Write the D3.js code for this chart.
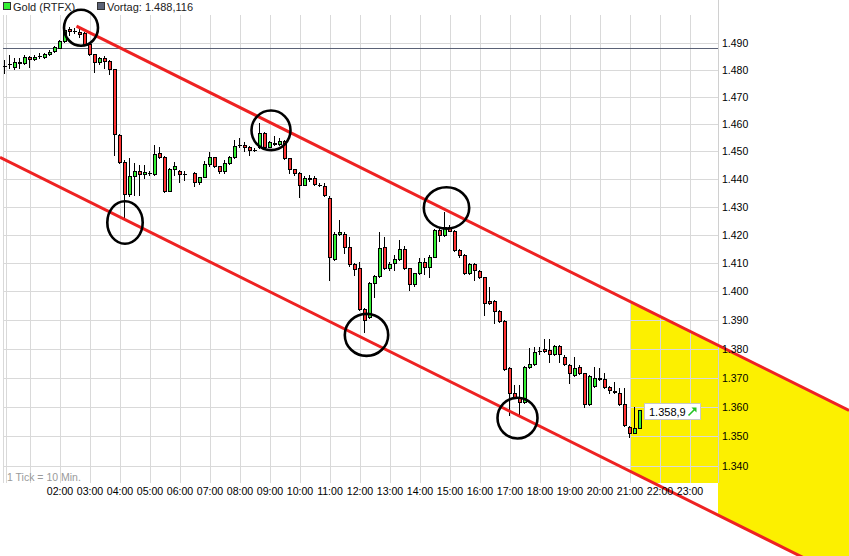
<!DOCTYPE html>
<html><head><meta charset="utf-8">
<script src="https://cdn.jsdelivr.net/npm/d3@7"></script>
<style>
html,body{margin:0;padding:0;background:#fff;}
svg{display:block;font-family:"Liberation Sans",Arial,sans-serif;}
</style>
</head><body>
<svg id="chart" width="849" height="556"></svg>
<script>
// ---------------- DATA ----------------
const seriesName = "Gold (RTFX)";
const prevCloseLabel = "Vortag";
const prevClose = 1488.116;
const lastPrice = 1358.9;
const tickNote = "1 Tick = 10 Min.";
const firstMinute = 10;     // first candle 00:10
const stepMinutes = 10;     // 10-minute candles

const openP = [
1481.5,1482.1,1481.2,1482.8,1482.4,1484.9,1484.0,1485.1,1484.7,1485.9,
1487.0,1488.2,1490.7,1495.1,1494.6,1494.2,1493.6,1489.5,1485.8,1482.8,
1484.5,1483.3,1480.2,1456.0,1446.3,1434.5,1441.1,1442.9,1441.8,1442.1,
1441.8,1449.3,1447.9,1435.8,1443.5,1443.1,1441.9,null,1442.1,1438.8,
1440.9,1445.3,1447.9,1444.6,1443.1,1445.7,1447.9,1452.3,1452.4,1451.5,
1450.6,1451.7,1456.6,1451.7,1453.2,1452.7,1453.9,1447.5,1443.5,1442.1,
1438.0,1440.2,1440.3,1437.9,1437.6,1433.1,1411.3,1420.3,1420.3,1415.8,
1409.6,1408.1,1393.8,1391.1,1402.8,1405.3,1415.6,1408.1,1409.9,1411.4,
1414.9,1408.1,1402.6,1406.4,1410.2,1408.7,1412.2,1421.7,1419.9,1422.9,
1421.5,1414.6,1412.9,1406.4,1409.5,1407.3,1405.0,1396.6,1396.6,1393.2,
1389.7,1373.2,1364.9,1363.3,1361.8,1373.6,1374.6,1379.2,1379.8,1379.6,
1378.2,1381.0,1377.0,1374.3,1370.9,1373.6,1371.5,1361.0,1367.2,1369.7,
1369.6,1366.7,1365.3,1364.9,1361.0,1353.3,1351.2,1352.9];

const highP = [
1483.7,1485.5,1484.4,1484.4,1485.5,1485.2,1485.5,1486.3,1486.3,1487.4,
1488.9,1491.1,1495.7,1496.1,1495.7,1495.5,1494.1,1489.6,1485.9,1484.8,
1485.2,1483.7,1480.3,1456.4,1446.9,1447.6,1445.8,1445.1,1445.1,1442.9,
1452.4,1451.6,1448.4,1444.0,1446.2,1443.3,1442.9,null,1442.6,1440.8,
1446.5,1449.9,1448.0,1444.7,1446.9,1448.4,1454.1,1454.9,1453.5,1452.0,
1451.3,1460.3,1457.1,1453.8,1455.7,1454.9,1454.1,1447.6,1443.6,1442.6,
1441.1,1441.5,1441.1,1438.6,1438.6,1433.9,1421.0,1425.3,1421.0,1419.2,
1410.0,1410.4,1394.2,1403.3,1405.7,1421.1,1419.2,1410.4,1412.8,1418.1,
1416.0,1408.2,1406.5,1411.8,1411.8,1412.8,1422.1,1422.4,1428.3,1423.5,
1421.7,1415.0,1413.2,1410.0,1410.0,1407.5,1405.1,1401.5,1397.0,1393.5,
1390.0,1373.7,1367.5,1367.5,1374.0,1380.2,1380.6,1380.6,1383.3,1383.4,
1381.3,1381.3,1377.8,1374.7,1377.2,1374.4,1371.6,1370.9,1373.8,1373.3,
1371.6,1367.2,1368.6,1366.5,1366.5,1353.5,1360.1,1359.0];

const lowP = [
1478.8,1480.7,1480.3,1480.7,1482.2,1481.2,1483.7,1484.4,1484.4,1485.7,
1486.8,1488.1,1490.4,1493.0,1493.7,1492.3,1489.3,1485.5,1479.3,1482.2,
1480.7,1478.4,1448.7,1445.8,1425.9,1433.8,1434.1,1434.1,1440.4,1441.5,
1441.5,1447.6,1435.3,1435.7,1441.5,1439.1,1439.7,null,1437.5,1438.2,
1440.8,1444.9,1444.4,1442.2,1442.2,1445.5,1447.6,1451.6,1450.2,1448.7,
1450.2,1451.3,1451.3,1451.6,1452.4,1452.4,1447.3,1442.2,1441.5,1433.7,
1437.8,1439.3,1437.8,1437.5,1433.9,1404.0,1411.0,1419.9,1413.5,1408.9,
1405.8,1393.5,1385.9,1390.7,1398.1,1405.0,1407.9,1407.5,1407.5,1411.0,
1407.9,1400.5,1401.9,1406.1,1406.1,1405.0,1412.1,1417.8,1419.6,1421.4,
1414.2,1412.1,1406.1,1406.1,1404.0,1404.7,1391.7,1395.6,1388.9,1389.3,
1372.7,1357.3,1363.1,1357.3,1361.3,1373.4,1374.3,1378.2,1378.9,1375.5,
1377.9,1375.5,1374.3,1368.3,1370.6,1371.3,1360.1,1360.7,1366.8,1369.2,
1366.5,1364.8,1364.8,1360.7,1353.5,1349.9,1351.0,1352.8];

const closeP = [
1481.4,1482.2,1482.8,1482.7,1484.9,1484.0,1484.9,1485.2,1485.8,1486.8,
1488.4,1490.7,1494.8,1494.5,1494.5,1493.5,1489.5,1485.8,1482.8,1484.3,
1483.3,1480.2,1456.3,1446.3,1434.5,1441.1,1442.9,1441.8,1442.6,1442.2,
1449.0,1447.9,1435.8,1443.5,1444.7,1441.8,1441.8,null,1439.1,1440.6,
1445.3,1447.9,1444.6,1443.1,1445.7,1447.9,1451.9,1452.4,1451.5,1450.5,
1450.5,1456.6,1451.7,1453.3,1452.7,1453.9,1447.5,1443.5,1442.1,1438.0,
1440.3,1440.3,1438.1,1437.9,1434.3,1412.0,1420.3,1420.9,1415.8,1409.6,
1407.9,1393.8,1390.0,1402.8,1405.3,1415.2,1408.1,1409.5,1411.4,1414.9,
1408.1,1402.6,1406.4,1410.2,1408.7,1412.2,1421.7,1419.9,1422.7,1421.5,
1414.6,1412.9,1406.4,1409.5,1407.4,1405.0,1396.0,1396.0,1393.2,1389.7,
1373.0,1364.9,1363.3,1361.8,1373.6,1374.6,1378.8,1379.3,1379.3,1378.2,
1381.0,1378.2,1374.7,1371.7,1373.2,1371.5,1361.0,1370.6,1369.8,1369.8,
1366.7,1365.8,1365.2,1361.0,1353.9,1351.0,1352.7,1358.9];

const hourTicks = ["02:00","03:00","04:00","05:00","06:00","07:00","08:00","09:00","10:00","11:00","12:00",
                   "13:00","14:00","15:00","16:00","17:00","18:00","19:00","20:00","21:00","22:00","23:00"];
const priceTicks = [1340,1350,1360,1370,1380,1390,1400,1410,1420,1430,1440,1450,1460,1470,1480,1490];

// trend channel (time in minutes since 00:00, price)
const upperChannel = [{t:153, p:1496.3},{t:1698, p:1358.8}];
const lowerChannel = [{t:0, p:1447.9},{t:1698, p:1302.1}];
const forecastStart = 1261;   // yellow projection zone starts after 21:00
const forecastEnd = 1698;
// circled turning points (time in minutes, price)
const markerT = [162, 250, 542, 893, 733, 1035];
const markerP = [1495.7, 1424.4, 1457.7, 1429.6, 1384.8, 1356.2];

// ---------------- DRAW ----------------
const W = 849, H = 556;
const plot = {left:3, right:718, top:15, bottom:483};
const svg = d3.select("#chart");
const de = d3.formatLocale({decimal:",", thousands:".", grouping:[3], currency:["","€"]});

const x = d3.scaleLinear().domain([120, 1380]).range([60, 690]);
const y = d3.scaleLog().domain([1340, 1490]).range([466, 43]);
const times = openP.map((d,i) => firstMinute + i*stepMinutes);
const hourMin = s => +s.slice(0,2)*60 + +s.slice(3,5);

svg.append("rect").attr("width",W).attr("height",H).attr("fill","#fff");

// clip for projection zone: plot area + right axis column
const defs = svg.append("defs");
const cp = defs.append("clipPath").attr("id","zone");
cp.append("rect").attr("x",plot.left).attr("y",plot.top).attr("width",plot.right-plot.left).attr("height",plot.bottom-plot.top);
cp.append("rect").attr("x",plot.right).attr("y",0).attr("width",W-plot.right).attr("height",H);

function lineY(seg, t){
  const x0=x(seg[0].t), y0=y(seg[0].p), x1=x(seg[1].t), y1=y(seg[1].p);
  return y0 + (y1-y0)*(x(t)-x0)/(x1-x0);
}
const zone = [
  [x(forecastStart), lineY(upperChannel, forecastStart)],
  [x(forecastEnd), lineY(upperChannel, forecastEnd)],
  [x(forecastEnd), lineY(lowerChannel, forecastEnd)],
  [x(forecastStart), lineY(lowerChannel, forecastStart)]
];
svg.append("polygon").attr("points", zone.map(p=>p.join(",")).join(" "))
  .attr("fill","#fcf000").attr("clip-path","url(#zone)");

// grid
const grid = svg.append("g").attr("stroke","#d9d9d9").attr("stroke-width",1).attr("shape-rendering","crispEdges");
priceTicks.forEach(p => {
  const yy = Math.round(y(p)) + 0.5;
  grid.append("line").attr("x1",plot.left).attr("x2",plot.right).attr("y1",yy).attr("y2",yy);
});
const gridHours = [60].concat(hourTicks.map(hourMin));
gridHours.forEach(m => {
  const xx = Math.round(x(m)) + 0.5;
  grid.append("line").attr("x1",xx).attr("x2",xx).attr("y1",plot.top).attr("y2",plot.bottom);
});
grid.append("line").attr("x1",plot.left+0.5).attr("x2",plot.left+0.5).attr("y1",plot.top).attr("y2",plot.bottom);
grid.append("line").attr("x1",plot.left+3.5).attr("x2",plot.left+3.5).attr("y1",plot.top).attr("y2",plot.bottom);
grid.append("line").attr("x1",plot.right+0.5).attr("x2",plot.right+0.5).attr("y1",0).attr("y2",plot.bottom).attr("stroke","#d0d0d0");

// previous close line
const yPrev = Math.round(y(prevClose)) + 0.5;
svg.append("line").attr("x1",plot.left).attr("x2",plot.right).attr("y1",yPrev).attr("y2",yPrev)
  .attr("stroke","#5b6276").attr("stroke-width",1).attr("shape-rendering","crispEdges");

// candles
const cg = svg.append("g").attr("shape-rendering","crispEdges");
times.forEach((t,i) => {
  if (openP[i] == null) return;
  const o=openP[i], h=highP[i], l=lowP[i], c=closeP[i];
  const cx = Math.round(x(t));
  cg.append("line").attr("x1",cx-0.5).attr("x2",cx-0.5)
    .attr("y1",Math.round(y(h))).attr("y2",Math.round(y(l))+1).attr("stroke","#000");
  const top = Math.round(y(Math.max(o,c))), bot = Math.round(y(Math.min(o,c)));
  if (bot - top < 1) {
    cg.append("line").attr("x1",cx-2).attr("x2",cx+2).attr("y1",top+0.5).attr("y2",top+0.5).attr("stroke","#000");
  } else {
    cg.append("rect").attr("x",cx-1.5).attr("y",top+0.5).attr("width",3).attr("height",bot-top)
      .attr("fill", c>=o ? "#33f033" : "#ff3333").attr("stroke","#000").attr("stroke-width",1);
  }
});

// channel lines
const ln = d3.line().x(d=>x(d.t)).y(d=>y(d.p));
[upperChannel, lowerChannel].forEach(seg => {
  svg.append("path").attr("d", ln(seg)).attr("fill","none").attr("stroke","#ee2222").attr("stroke-width",3);
});

// circled points
const markerR = [[17,18],[17.7,21.2],[19.5,19.8],[22.7,20.7],[21.7,21],[20,20.4]];
markerT.forEach((t,i) => {
  svg.append("ellipse").attr("cx",x(t)).attr("cy",y(markerP[i]))
    .attr("rx",markerR[i][0]).attr("ry",markerR[i][1])
    .attr("fill","none").attr("stroke","#000").attr("stroke-width",2.6);
});

// y labels
const fmtAxis = de.format(",.0f");
priceTicks.forEach(p => {
  svg.append("text").attr("x",722).attr("y",y(p)+3.8).attr("font-size",10.5).attr("fill","#000").text(fmtAxis(p));
});
// x labels
hourTicks.forEach(s => {
  svg.append("text").attr("x",x(hourMin(s))).attr("y",494.5).attr("text-anchor","middle")
    .attr("font-size",10.6).attr("fill","#000").text(s);
});
svg.append("text").attr("x",7).attr("y",480.5).attr("font-size",10.5).attr("fill","#9a9a9a").text(tickNote);

// legend
svg.append("rect").attr("x",3.5).attr("y",2.5).attr("width",7).attr("height",7).attr("fill","#33f033").attr("stroke","#333");
svg.append("text").attr("x",13).attr("y",10.5).attr("font-size",11).attr("fill","#222").text(seriesName);
svg.append("rect").attr("x",97.5).attr("y",2.5).attr("width",7).attr("height",7).attr("fill","#5b6276").attr("stroke","#333");
svg.append("text").attr("x",107).attr("y",10.5).attr("font-size",11).attr("fill","#222")
  .text(prevCloseLabel + ": " + de.format(",.3f")(prevClose));

// last price box
const lastT = times[times.length-1];
const bx = Math.round(x(lastT)) + 4.5, by = Math.round(y(lastPrice)) - 6.5;
svg.append("rect").attr("x",bx).attr("y",by).attr("width",56).attr("height",16)
  .attr("fill","#fff").attr("stroke","#c8c8c8");
svg.append("text").attr("x",bx+4.5).attr("y",by+12).attr("font-size",11).attr("fill","#000")
  .text(de.format(",.1f")(lastPrice));
const ax = bx + 44, ay = by + 12;
svg.append("line").attr("x1",ax).attr("y1",ay).attr("x2",ax+6).attr("y2",ay-6).attr("stroke","#22c322").attr("stroke-width",1.6);
svg.append("path").attr("d",`M${ax+3},${ay-8} L${ax+8},${ay-8} L${ax+8},${ay-3} Z`).attr("fill","#22c322");
</script>
</body></html>
